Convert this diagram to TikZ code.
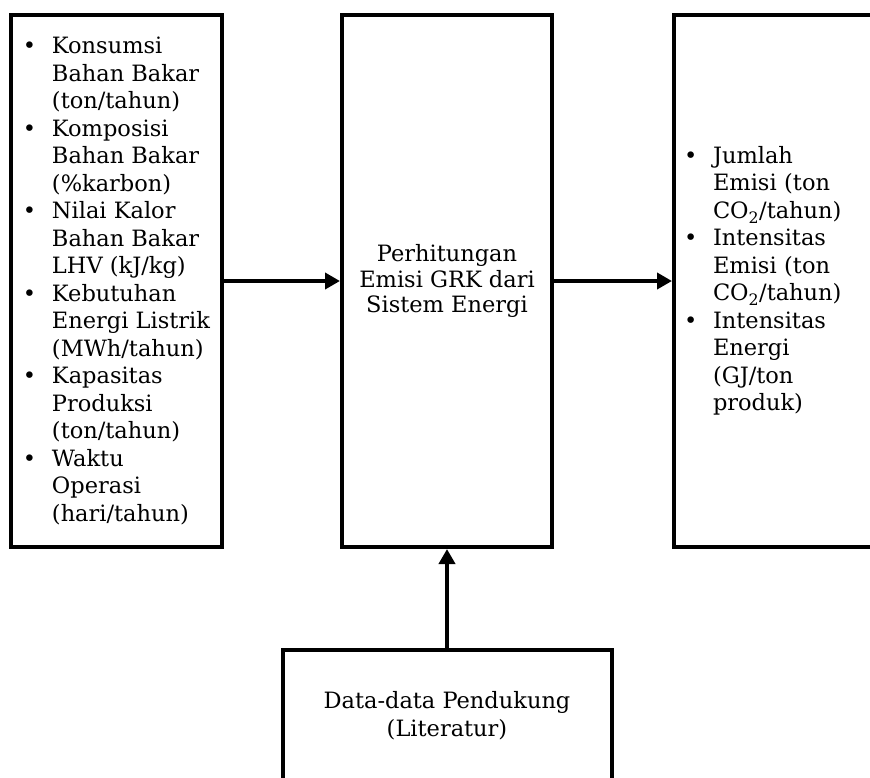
\documentclass[tikz,border=0pt]{standalone}
\usepackage{fontspec}
\setmainfont{DejaVu Serif}
\usetikzlibrary{positioning,arrows.meta}

\newcommand{\bul}{\makebox[29pt][l]{\textbullet}}
\newcommand{\ind}{\hspace*{29pt}}

\begin{document}
\begin{tikzpicture}
			[box/.style={draw, line width=4pt, minimum height=532pt},
			 arr/.style={line width=4pt, -{Triangle[length=15pt,width=16pt]}},
			 txt/.style={font=\fontsize{22.5}{27.5}\selectfont}]
			\useasboundingbox (0,0) rectangle (870pt,-777pt);
			\clip (0,0) rectangle (870pt,-777pt);
			\node[box, txt, align=center, minimum width=210pt,
			  font=\fontsize{22.5}{25.5}\selectfont] (mid) at (447pt,-281pt)
			  {Perhitungan\\Emisi GRK dari\\Sistem Energi};
			\node[box, txt, align=left, minimum width=211pt,
			  left=116pt of mid] (in)
			  {\bul Konsumsi\\\ind Bahan Bakar\\\ind (ton/tahun)\\
			   \bul Komposisi\\\ind Bahan Bakar\\\ind (\%karbon)\\
			   \bul Nilai Kalor\\\ind Bahan Bakar\\\ind LHV (kJ/kg)\\
			   \bul Kebutuhan\\\ind Energi Listrik\\\ind (MWh/tahun)\\
			   \bul Kapasitas\\\ind Produksi\\\ind (ton/tahun)\\
			   \bul Waktu\\\ind Operasi\\\ind (hari/tahun)};
			\node[box, txt, align=left, text width=280pt, inner xsep=10pt,
			  right=118pt of mid] (out)
			  {\bul Jumlah\\\ind Emisi (ton\\\ind CO\textsubscript{2}/tahun)\\
			   \bul Intensitas\\\ind Emisi (ton\\\ind CO\textsubscript{2}/tahun)\\
			   \bul Intensitas\\\ind Energi\\\ind (GJ/ton\\\ind produk)};
			\node[box, txt, align=center, minimum width=329pt, minimum height=132pt,
			  font=\fontsize{22.5}{28}\selectfont, below=99pt of mid] (data)
			  {Data-data Pendukung\\(Literatur)};
			\draw[arr] (in.east) -- (mid.west);
			\draw[arr] (mid.east) -- (out.west);
			\draw[arr] (data.north) -- (mid.south);
		\end{tikzpicture}
\end{document}
